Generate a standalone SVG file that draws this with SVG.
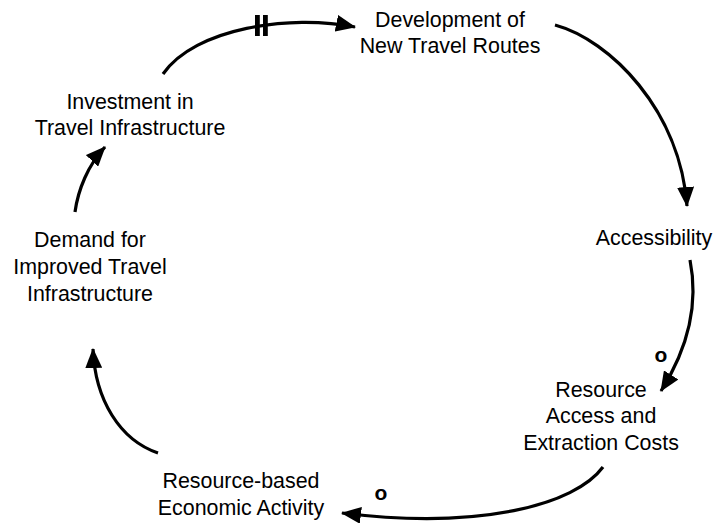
<svg xmlns="http://www.w3.org/2000/svg" width="715" height="523" viewBox="0 0 715 523">
<style>
.lbl{font-family:"Liberation Sans",Arial,sans-serif;font-size:21.4px;fill:#000;text-anchor:middle}
.pol{font-family:"Liberation Sans",Arial,sans-serif;font-size:21px;font-weight:bold;fill:#000;text-anchor:middle}
.link{fill:none;stroke:#000;stroke-width:3.2;marker-end:url(#ah)}
.hash{fill:#000}
</style>
<defs>
<marker id="ah" viewBox="0 0 20 17" refX="19" refY="8.5" markerWidth="20" markerHeight="17" markerUnits="userSpaceOnUse" orient="auto">
<path d="M0,0 L20,8.5 L0,17 z" fill="#000"/>
</marker>
</defs>
<rect width="715" height="523" fill="#fff"/>
<g id="connectors">
<path class="link" d="M163,74 C195,28 290,14 355,27"/>
<rect class="hash" x="255" y="15" width="4.8" height="21"/>
<rect class="hash" x="263" y="15" width="4.8" height="21"/>
<path class="link" d="M555,25 C610,40 680,110 687,206"/>
<path class="link" d="M690,260 C698,300 690,345 661,391"/>
<text class="pol" x="661" y="362">o</text>
<path class="link" d="M603,467 C575,505 480,530 342,513"/>
<text class="pol" x="381" y="500">o</text>
<path class="link" d="M158,453 C120,440 95,400 93,349"/>
<path class="link" d="M75,212 C78,190 88,165 105,147"/>
</g>
<g id="node-development">
<text class="lbl" x="450" y="27">Development of</text>
<text class="lbl" x="450" y="53">New Travel Routes</text>
</g>
<g id="node-accessibility">
<text class="lbl" x="654" y="245">Accessibility</text>
</g>
<g id="node-resource-access">
<text class="lbl" x="601" y="397">Resource</text>
<text class="lbl" x="601" y="423">Access and</text>
<text class="lbl" x="601" y="450">Extraction Costs</text>
</g>
<g id="node-resource-activity">
<text class="lbl" x="241" y="488">Resource-based</text>
<text class="lbl" x="241" y="515">Economic Activity</text>
</g>
<g id="node-demand">
<text class="lbl" x="90" y="247">Demand for</text>
<text class="lbl" x="90" y="274">Improved Travel</text>
<text class="lbl" x="90" y="301">Infrastructure</text>
</g>
<g id="node-investment">
<text class="lbl" x="130" y="109">Investment in</text>
<text class="lbl" x="130" y="135">Travel Infrastructure</text>
</g>
</svg>
